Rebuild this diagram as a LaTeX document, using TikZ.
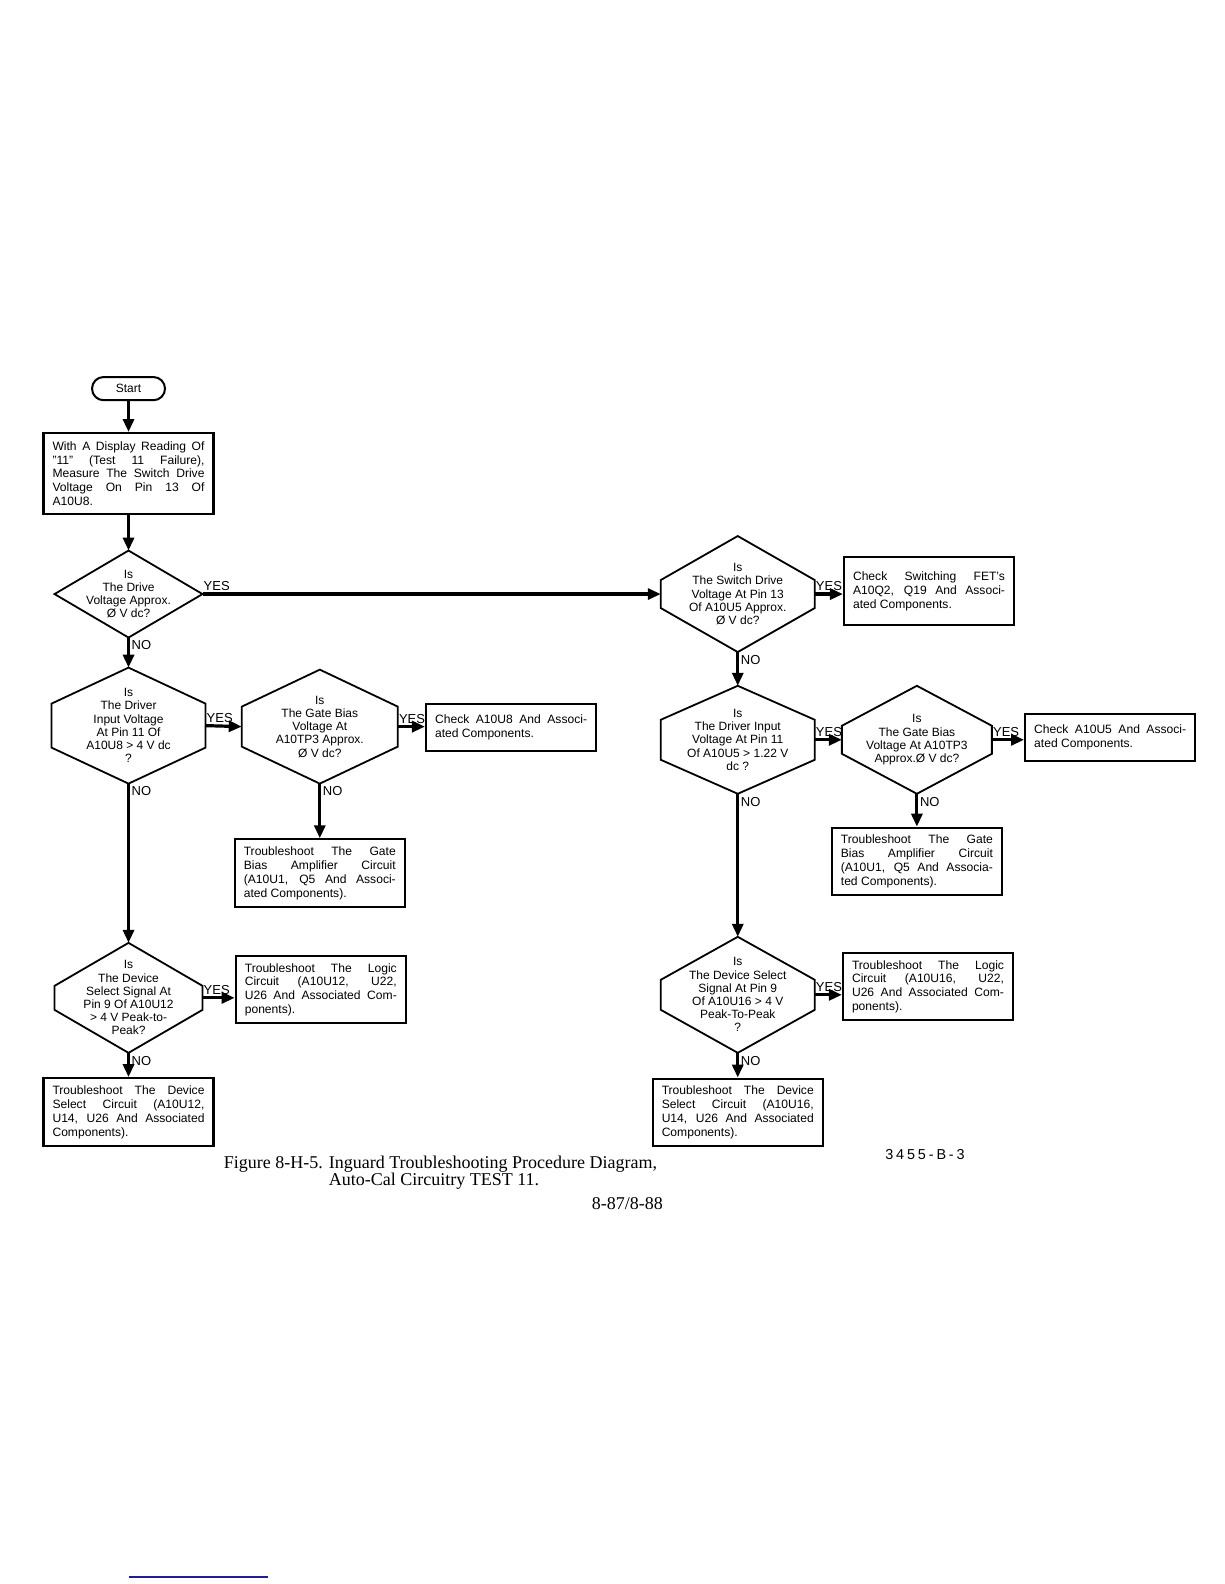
\documentclass[tikz,border=0pt]{standalone}
\usepackage{fontspec}
\setmainfont{Liberation Serif}
\setsansfont{Liberation Sans}
\newfontfamily\spacedsans[LetterSpace=20]{Liberation Sans}
\usetikzlibrary{arrows.meta}

\newcommand\boxfont{\sffamily\fontsize{6.05}{6.95}\selectfont}
\newcommand\decfont{\sffamily\fontsize{6}{6.6}\selectfont}
\newcommand\lblfont{\sffamily\fontsize{6.5}{7}\selectfont}
\newcommand\capfont{\rmfamily\fontsize{9}{10}\selectfont}
\definecolor{rulenavy}{RGB}{30,30,150}

\tikzset{every picture/.style={line width=1pt},
  box/.style={draw, line width=1.1pt, align=justify, text width=76pt, inner xsep=4.5pt, inner ysep=2pt, font=\boxfont},
  terminal/.style={draw, rounded corners=5.8pt, minimum width=36.5pt, minimum height=11.6pt, inner sep=0pt, font=\decfont},
  decision/.style={inner sep=0pt, align=center, font=\decfont},
  hexline/.style={line width=0.9pt, line join=miter},
  flow/.style={line width=1.6pt, -{Triangle[length=6.5pt,width=5.5pt]}},
  lbl/.style={font=\lblfont, inner sep=0.8pt},
  yes/.style={lbl, pos=0, anchor=south west, xshift=-1pt},
  no/.style={lbl, pos=0, anchor=north west}
}

\begin{document}
\begin{tikzpicture}[x=0.506pt,y=0.506pt,yscale=-1,xscale=1]
    \useasboundingbox (0,0) rectangle (1209.5,1565.2);

    % Start
    \node [terminal] (start) at (127,384) {Start};
    % Text Node
    \node [box, minimum height=40.5pt] (b1) at (127,468) {With A Display Reading Of\linebreak "11" (Test 11 Failure),\linebreak Measure The Switch Drive\linebreak Voltage On Pin 13 Of\linebreak A10U8.};

    %Shape: Diamond
    \node [decision, minimum width=73pt, minimum height=42.5pt] (d1) at (127,587) {Is\\The Drive\\Voltage Approx.\\Ø V dc?};
    \draw [hexline] (d1.north) -- (d1.east) -- (d1.south) -- (d1.west) -- cycle ;

    %Shape: Diamond
    \node [decision, minimum width=76pt, minimum height=57pt] (d2) at (127,717) {Is\\The Driver\\Input Voltage\\At Pin 11 Of\\A10U8 > 4 V dc\\?};
    \draw [hexline] (d2.north) -- ([yshift=-11pt]d2.east) -- ([yshift=11pt]d2.east) -- (d2.south) -- ([yshift=11pt]d2.west) -- ([yshift=-11pt]d2.west) -- cycle ;

    %Shape: Diamond
    \node [decision, minimum width=77pt, minimum height=56pt] (d3) at (316,718) {Is\\The Gate Bias\\Voltage At\\A10TP3 Approx.\\Ø V dc?};
    \draw [hexline] (d3.north) -- ([yshift=-10pt]d3.east) -- ([yshift=10pt]d3.east) -- (d3.south) -- ([yshift=10pt]d3.west) -- ([yshift=-10pt]d3.west) -- cycle ;

    % Text Node
    \node [box, minimum height=23.5pt] (c1) at (505,719) {Check A10U8 And Associ-\linebreak ated Components.};
    % Text Node
    \node [box, minimum height=34pt] (t1) at (316,863) {Troubleshoot The Gate\linebreak Bias Amplifier Circuit\linebreak (A10U1, Q5 And Associ-\linebreak ated Components).};

    %Shape: Diamond
    \node [decision, minimum width=73pt, minimum height=54pt] (d4) at (127,986) {Is\\The Device\\Select Signal At\\Pin 9 Of A10U12\\> 4 V Peak-to-\\Peak?};
    \draw [hexline] (d4.north) -- ([yshift=-6pt]d4.east) -- ([yshift=6pt]d4.east) -- (d4.south) -- ([yshift=6pt]d4.west) -- ([yshift=-6pt]d4.west) -- cycle ;

    % Text Node
    \node [box, minimum height=33.5pt] (l1) at (317,978) {Troubleshoot The Logic\linebreak Circuit (A10U12, U22,\linebreak U26 And Associated Com-\linebreak ponents).};
    % Text Node
    \node [box, minimum height=34pt] (s1) at (127,1099) {Troubleshoot The Device\linebreak Select Circuit (A10U12,\linebreak U14, U26 And Associated\linebreak Components).};

    %Shape: Diamond
    \node [decision, minimum width=76pt, minimum height=57pt] (d5) at (729,587) {Is\\The Switch Drive\\Voltage At Pin 13\\Of A10U5 Approx.\\Ø V dc?};
    \draw [hexline] (d5.north) -- ([yshift=-7pt]d5.east) -- ([yshift=7pt]d5.east) -- (d5.south) -- ([yshift=7pt]d5.west) -- ([yshift=-7pt]d5.west) -- cycle ;

    % Text Node
    \node [box, minimum height=34pt] (f1) at (918,584) {Check Switching FET’s\linebreak A10Q2, Q19 And Associ-\linebreak ated Components.};

    %Shape: Diamond
    \node [decision, minimum width=76pt, minimum height=53pt] (d6) at (729,731) {Is\\The Driver Input\\Voltage At Pin 11\\Of A10U5 > 1.22 V\\dc ?};
    \draw [hexline] (d6.north) -- ([yshift=-10pt]d6.east) -- ([yshift=10pt]d6.east) -- (d6.south) -- ([yshift=10pt]d6.west) -- ([yshift=-10pt]d6.west) -- cycle ;

    %Shape: Diamond
    \node [decision, minimum width=74pt, minimum height=53pt] (d7) at (906,731) {Is\\The Gate Bias\\Voltage At A10TP3\\Approx.Ø V dc?};
    \draw [hexline] (d7.north) -- ([yshift=-7pt]d7.east) -- ([yshift=7pt]d7.east) -- (d7.south) -- ([yshift=7pt]d7.west) -- ([yshift=-7pt]d7.west) -- cycle ;

    % Text Node
    \node [box, minimum height=23.5pt] (c2) at (1097,729) {Check A10U5 And Associ-\linebreak ated Components.};
    % Text Node
    \node [box, minimum height=33.5pt] (t2) at (906,851) {Troubleshoot The Gate\linebreak Bias Amplifier Circuit\linebreak (A10U1, Q5 And Associa-\linebreak ted Components).};

    %Shape: Diamond
    \node [decision, minimum width=76pt, minimum height=57pt] (d8) at (729,983) {Is\\The Device Select\\Signal At Pin 9\\Of A10U16 > 4 V\\Peak-To-Peak\\?};
    \draw [hexline] (d8.north) -- ([yshift=-7.5pt]d8.east) -- ([yshift=7.5pt]d8.east) -- (d8.south) -- ([yshift=7.5pt]d8.west) -- ([yshift=-7.5pt]d8.west) -- cycle ;

    % Text Node
    \node [box, minimum height=33.5pt] (l2) at (917,975) {Troubleshoot The Logic\linebreak Circuit (A10U16, U22,\linebreak U26 And Associated Com-\linebreak ponents).};
    % Text Node
    \node [box, minimum height=33.5pt] (s2) at (729,1099) {Troubleshoot The Device\linebreak Select Circuit (A10U16,\linebreak U14, U26 And Associated\linebreak Components).};

    % Connectors
    \draw [flow] (start.south) -- (b1.north) ;
    \draw [flow] (b1.south) -- (d1.north) ;
    \draw [flow] (d1.east) -- node [yes] {YES} (d5.west) ;
    \draw [flow] (d1.south) -- node [no] {NO} (d2.north) ;
    \draw [flow] (d2.east) -- node [yes] {YES} (d3.west) ;
    \draw [flow] (d3.east) -- node [yes] {YES} (d3.east -| c1.west) ;
    \draw [flow] (d3.south) -- node [no] {NO} (t1.north) ;
    \draw [flow] (d2.south) -- node [no] {NO} (d4.north) ;
    \draw [flow] (d4.east) -- node [yes] {YES} (d4.east -| l1.west) ;
    \draw [flow] (d4.south) -- node [no] {NO} (s1.north) ;
    \draw [flow] (d5.east) -- node [yes] {YES} (d5.east -| f1.west) ;
    \draw [flow] (d5.south) -- node [no] {NO} (d6.north) ;
    \draw [flow] (d6.east) -- node [yes] {YES} (d7.west) ;
    \draw [flow] (d7.east) -- node [yes] {YES} (d7.east -| c2.west) ;
    \draw [flow] (d7.south) -- node [no] {NO} (t2.north) ;
    \draw [flow] (d6.south) -- node [no] {NO} (d8.north) ;
    \draw [flow] (d8.east) -- node [yes] {YES} (d8.east -| l2.west) ;
    \draw [flow] (d8.south) -- node [no] {NO} (s2.north) ;

    % Caption
    \node [font=\capfont, anchor=base east, inner sep=0pt] (fignum) at (320,1155) {Figure 8-H-5.};
    \node [font=\capfont, anchor=base west, inner sep=0pt] (captitle) at (324,1155) {Inguard Troubleshooting Procedure Diagram,};
    \node [font=\capfont, anchor=base west, inner sep=0pt] (capsub) at (324,1171) {Auto-Cal Circuitry TEST 11.};
    \node [font=\capfont, anchor=base, inner sep=0pt] (pageno) at (620,1195) {8-87/8-88};
    \node [font=\spacedsans\fontsize{7.2}{8}\selectfont, anchor=base, inner sep=0pt] (figid) at (914,1146) {3455-B-3};

    % Rule
    \draw [rulenavy, line width=1pt] (127,1558) -- (265,1558) ;

\end{tikzpicture}
\end{document}
